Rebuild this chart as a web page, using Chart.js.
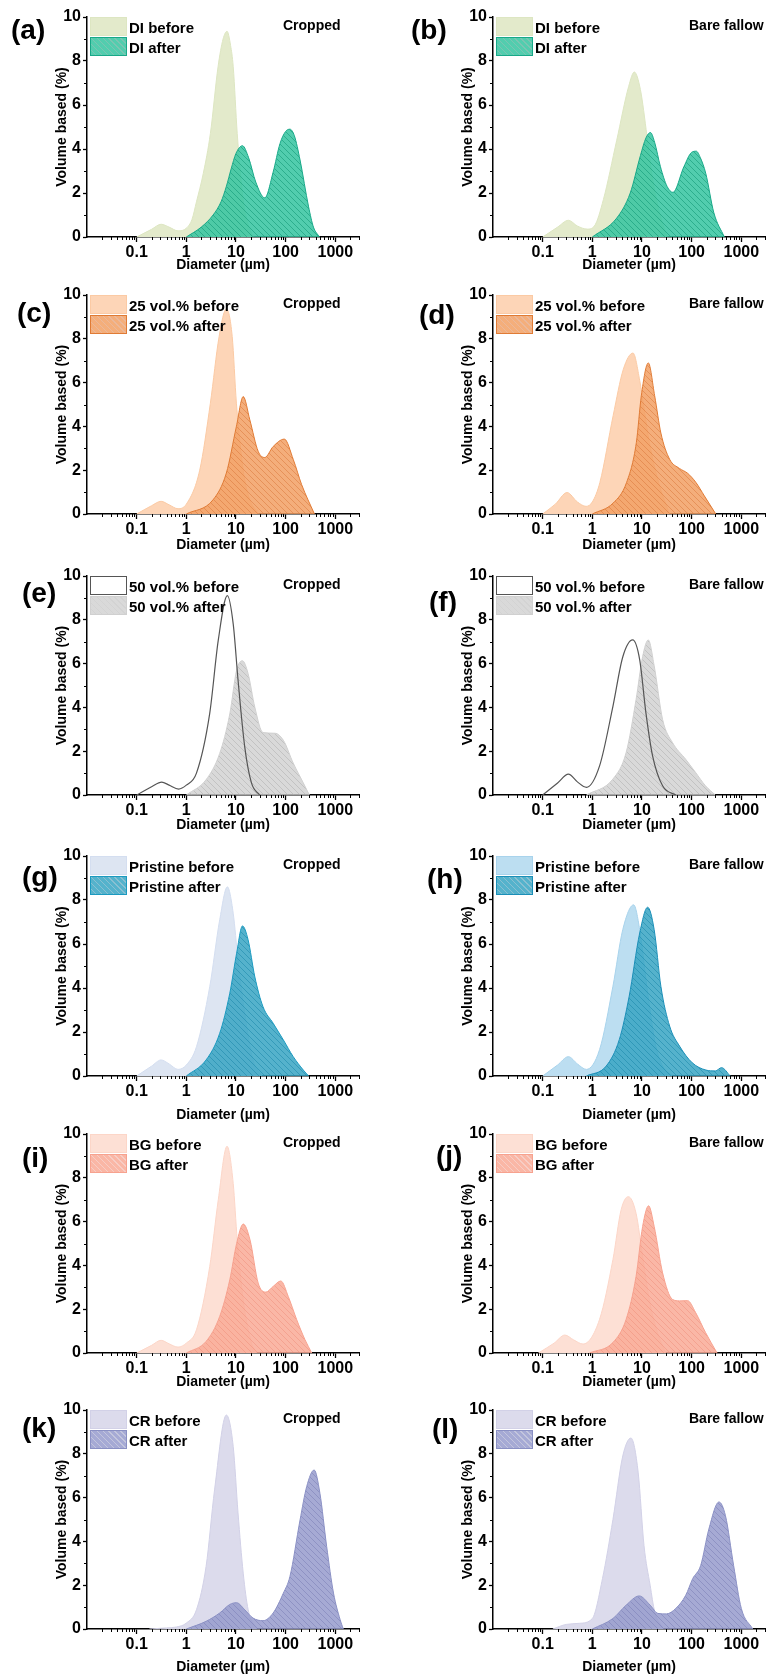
<!DOCTYPE html>
<html>
<head>
<meta charset="utf-8">
<script src="https://cdn.jsdelivr.net/npm/chart.js@4.4.0/dist/chart.umd.min.js"></script>
<style>
html, body { margin: 0; padding: 0; background: #fff; }
#page { position: relative; width: 769px; height: 1677px; overflow: hidden; font-family: "Liberation Sans", Arial, sans-serif; font-weight: bold; color: #000; }
#page canvas { position: absolute; }
.lbl { position: absolute; white-space: nowrap; line-height: 1; }
.sw { position: absolute; box-sizing: border-box; }
</style>
</head>
<body>
<div id="page"></div>
<script>
// --- axis ticks / text ---
const xTicks = [0.1, 1, 10, 100, 1000];
const groups = ["DI", "25 vol.%", "50 vol.%", "Pristine", "BG", "CR"];
const sites = ["Cropped", "Bare fallow"];
const letters = ["a", "b", "c", "d", "e", "f", "g", "h", "i", "j", "k", "l"];

// --- [diameter (µm), volume (%)] ---
const diCropBefore = [[0.1,0],[0.2,0.35],[0.31,0.58],[0.45,0.45],[0.68,0.28],[1,0.4],[1.3,0.8],[1.6,1.6],[2.2,2.9],[3.05,4.7],[4.36,7.75],[5.5,9.0],[6.6,9.35],[7.8,8.7],[8.8,7.75],[10.6,4.7],[14,1.67],[17,0.7],[22,0]];
const diCropAfter = [[1,0],[2,0.45],[3.46,1.0],[5,1.6],[6.4,2.3],[8,3.1],[10,3.8],[13.5,4.15],[18,3.6],[25,2.5],[38,1.78],[56,2.95],[77,4.25],[100,4.8],[122,4.9],[150,4.6],[195,3.5],[290,1.37],[363,0.45],[480,0]];
const diBareBefore = [[0.1,0],[0.2,0.45],[0.33,0.76],[0.5,0.5],[0.79,0.36],[1.1,0.5],[1.67,1.7],[3.1,4.4],[5.4,6.85],[7,7.5],[9.3,6.7],[12.6,4.6],[16,2.8],[22,1.2],[32,0]];
const diBareAfter = [[1,0],[3.1,0.86],[5.8,2.0],[9.3,3.7],[12,4.5],[14.8,4.75],[18,4.3],[23.5,3.2],[32,2.3],[42,2.03],[70,3.2],[100,3.85],[124,3.9],[150,3.6],[192,2.9],[280,1.1],[455,0]];

const v25CropBefore = [[0.1,0],[0.2,0.38],[0.31,0.58],[0.45,0.42],[0.68,0.24],[1,0.45],[1.86,2.0],[3.05,5.06],[4.57,8.1],[6.4,9.36],[8.4,8.1],[10.2,5.06],[14,2.0],[18,0.8],[28,0]];
const v25CropAfter = [[1,0],[3.46,0.65],[6.4,1.87],[10.2,4.0],[14,5.36],[19,4.3],[28,2.86],[38,2.58],[56,3.08],[94,3.42],[143,2.48],[210,1.34],[380,0]];
const v25BareBefore = [[0.1,0],[0.18,0.45],[0.31,0.98],[0.5,0.55],[0.75,0.35],[1.0,0.55],[1.42,1.44],[2.63,4.5],[4.2,6.6],[6.6,7.35],[9,6.1],[14,3.3],[22.5,1.3],[36,0]];
const v25BareAfter = [[1,0],[2.63,0.5],[4.9,1.44],[7.7,3.26],[9.7,5.4],[13.4,6.9],[18,5.4],[24,3.7],[36,2.5],[57,2.08],[83,1.86],[122,1.44],[180,0.83],[306,0]];

const v50CropBefore = [[0.1,0],[0.2,0.38],[0.32,0.59],[0.45,0.45],[0.7,0.27],[1,0.45],[1.6,1.0],[2.96,3.73],[4.4,7.07],[6.7,9.1],[8.8,7.8],[11,5.25],[15,2.2],[20.5,0.55],[30,0]];
const v50CropAfter = [[1,0],[2.5,0.7],[4.7,1.9],[7.5,3.7],[10.3,5.7],[13.5,6.13],[17.5,5.55],[24,4.0],[35,2.85],[61,2.82],[90,2.5],[142,1.46],[227,0.55],[300,0]];
const v50BareBefore = [[0.1,0],[0.2,0.55],[0.33,0.95],[0.5,0.6],[0.76,0.35],[1.4,1.33],[2.6,4.05],[4.1,6.3],[6.5,7.08],[9,6.17],[12,3.75],[16.3,1.8],[26,0.42],[48,0]];
const v50BareAfter = [[0.76,0],[2.6,0.73],[4.8,1.94],[7.6,4.36],[10.3,6.32],[13.4,7.08],[17.6,5.9],[26,3.45],[41,2.4],[76,1.63],[120,1.03],[190,0.42],[300,0]];

const priCropBefore = [[0.1,0],[0.2,0.45],[0.31,0.73],[0.45,0.55],[0.68,0.3],[1,0.5],[1.6,1.33],[2.96,4.06],[4.7,7.1],[6.7,8.6],[8.8,7.4],[11,5.27],[15,2.85],[22,0.73],[33,0]];
const priCropAfter = [[1,0],[2.5,0.73],[4.7,1.94],[7.5,3.76],[10.3,5.58],[13.5,6.82],[17.5,6.2],[24,4.5],[35,3.15],[56,2.4],[90,1.64],[142,0.88],[227,0.27],[290,0]];
const priBareBefore = [[0.1,0],[0.2,0.5],[0.33,0.88],[0.5,0.55],[0.76,0.3],[1.4,1.2],[2.6,4.08],[4.1,6.65],[6.8,7.78],[9,6.65],[13,3.78],[19,1.36],[26,0.45],[41,0]];
const priBareAfter = [[0.76,0],[1.9,0.45],[3.5,1.66],[5.5,3.6],[9,6.5],[13,7.67],[17.6,6.65],[24,4.08],[36,2.27],[57,1.36],[103,0.6],[194,0.27],[300,0.23],[400,0.38],[600,0]];

const bgCropBefore = [[0.1,0],[0.2,0.35],[0.31,0.58],[0.45,0.42],[0.68,0.27],[1,0.45],[1.6,1.06],[2.96,3.95],[4.4,7.0],[6.6,9.44],[8.8,7.74],[10.6,5.16],[14,2.43],[20.5,0.46],[26,0]];
const bgCropAfter = [[1,0],[2.5,0.53],[4.7,1.67],[7.5,3.34],[10.3,5.0],[14,5.89],[19.2,5.16],[28,3.19],[40,2.78],[56,3.04],[80,3.29],[113,2.58],[167,1.52],[245,0.61],[335,0]];
const bgBareBefore = [[0.082,0],[0.17,0.45],[0.28,0.82],[0.42,0.6],[0.65,0.41],[1.4,1.54],[2.6,4.27],[3.8,6.54],[5.3,7.14],[7.6,6.38],[10.3,4.42],[14,2.45],[20.5,0.94],[30,0]];
const bgBareAfter = [[0.88,0],[2.6,0.48],[4.8,1.54],[7.6,3.5],[10.3,5.78],[13.6,6.72],[17.6,5.78],[26,3.66],[41,2.45],[57,2.38],[83,2.39],[120,1.85],[190,0.94],[325,0]];

const crCropBefore = [[0.18,0],[0.4,0.05],[0.63,0.09],[1,0.27],[1.6,0.88],[2.5,2.86],[3.7,6.35],[6.4,9.77],[8.8,8.33],[11,5.3],[14,2.55],[17.6,0.88],[26,0]];
const crCropAfter = [[1,0],[2.5,0.35],[4.7,0.73],[7.5,1.12],[10.3,1.2],[15,0.88],[22,0.5],[35,0.38],[56,0.73],[90,1.64],[122,2.4],[195,4.98],[265,6.5],[375,7.26],[490,6.2],[670,3.77],[920,1.64],[1250,0.43],[1450,0]];
const crBareBefore = [[0.16,0],[0.3,0.21],[0.55,0.26],[1,0.48],[1.6,2.3],[2.6,5.0],[4.1,7.9],[6,8.72],[8.4,7.13],[11,3.8],[14.6,2.0],[18,0.8],[27,0]];
const crBareAfter = [[1,0],[2.6,0.48],[4.8,1.09],[8.8,1.51],[14.6,1.09],[21,0.71],[31,0.69],[48,0.94],[76,1.54],[105,2.3],[152,2.9],[222,4.56],[355,5.8],[480,5.17],[700,2.9],[1000,0.94],[1700,0]];

const beforeSets = [diCropBefore, diBareBefore, v25CropBefore, v25BareBefore, v50CropBefore, v50BareBefore,
  priCropBefore, priBareBefore, bgCropBefore, bgBareBefore, crCropBefore, crBareBefore];
const afterSets = [diCropAfter, diBareAfter, v25CropAfter, v25BareAfter, v50CropAfter, v50BareAfter,
  priCropAfter, priBareAfter, bgCropAfter, bgBareAfter, crCropAfter, crBareAfter];

// --- colours per panel: before fill/line, after base/hatch/line ---
const looks = [
  { bf: "#e3eacb", bl: "#dde6c2", ab: "rgba(52,196,160,0.85)", ah: "rgba(15,150,115,0.55)", al: "#18a888" },
  { bf: "#e3eacb", bl: "#dde6c2", ab: "rgba(52,196,160,0.85)", ah: "rgba(15,150,115,0.55)", al: "#18a888" },
  { bf: "#fdd5b7", bl: "#fbcaa4", ab: "rgba(242,160,100,0.85)", ah: "rgba(215,115,55,0.5)", al: "#e07b35" },
  { bf: "#fdd5b7", bl: "#fbcaa4", ab: "rgba(242,160,100,0.85)", ah: "rgba(215,115,55,0.5)", al: "#e07b35" },
  { bf: null, bl: "#555555", ab: "rgba(208,208,208,0.8)", ah: "rgba(175,175,175,0.55)", al: "#d0d0d0" },
  { bf: null, bl: "#555555", ab: "rgba(208,208,208,0.8)", ah: "rgba(175,175,175,0.55)", al: "#d0d0d0" },
  { bf: "#dde5f2", bl: "#d4def0", ab: "rgba(55,165,195,0.85)", ah: "rgba(20,130,165,0.5)", al: "#1b9ac0" },
  { bf: "#bcdef1", bl: "#a8d3ec", ab: "rgba(55,165,195,0.85)", ah: "rgba(20,130,165,0.5)", al: "#1b8fb8" },
  { bf: "#fde0d5", bl: "#fcd6c8", ab: "rgba(249,170,150,0.85)", ah: "rgba(235,130,110,0.4)", al: "#f7a28f" },
  { bf: "#fde0d5", bl: "#fcd6c8", ab: "rgba(249,170,150,0.85)", ah: "rgba(235,130,110,0.4)", al: "#f7a28f" },
  { bf: "#dcdbec", bl: "#d2d1e7", ab: "rgba(150,155,205,0.85)", ah: "rgba(105,110,170,0.4)", al: "#8a90c4" },
  { bf: "#dcdbec", bl: "#d2d1e7", ab: "rgba(150,155,205,0.85)", ah: "rgba(105,110,170,0.4)", al: "#8a90c4" }
];

// --- layout (pixels) ---
const rowTop = [17, 295, 576, 856, 1134, 1410];
const rowBottom = [237, 514, 795, 1076, 1353, 1629];
const colLeft = [87, 493];
const plotW = 272;
const titleGap = [28, 31, 30, 39, 29, 38];
const letterPos = [[11,30],[411,30],[17,313],[419,315],[22,593],[429,602],[22,877],[427,879],[22,1158],[436,1156],[22,1428],[432,1429]];
const siteX = [283, 689];

const FONT = "'Liberation Sans', Arial, sans-serif";
const page = document.getElementById("page");

function hatch(base, line){
  const c = document.createElement("canvas");
  c.width = c.height = 6;
  const g = c.getContext("2d");
  g.fillStyle = base; g.fillRect(0, 0, 6, 6);
  g.strokeStyle = line; g.lineWidth = 1;
  g.beginPath();
  for(let k = -1; k <= 1; k++){ g.moveTo(k*6, 0); g.lineTo(k*6 + 6, 6); }
  g.stroke();
  return g.createPattern(c, "repeat");
}

const minorTicks = {
  id: "minorTicks",
  afterDraw(chart){
    const { ctx, scales: { x, y } } = chart;
    ctx.save();
    ctx.strokeStyle = "#000"; ctx.lineWidth = 1;
    ctx.beginPath();
    for(let e = -2; e <= 3; e++){
      for(let m = 2; m <= 9; m++){
        const v = m * Math.pow(10, e);
        if(v > x.max) break;
        const px = Math.round(x.getPixelForValue(v)) + 0.5;
        ctx.moveTo(px, y.bottom); ctx.lineTo(px, y.bottom + 3);
      }
    }
    for(let v = 1; v < 10; v += 2){
      const py = Math.round(y.getPixelForValue(v)) + 0.5;
      ctx.moveTo(x.left, py); ctx.lineTo(x.left - 3, py);
    }
    ctx.stroke();
    ctx.restore();
  }
};

function addText(txt, x, y, size){
  const d = document.createElement("div");
  d.className = "lbl";
  d.textContent = txt;
  d.style.left = x + "px";
  d.style.top = (y - size/2) + "px";
  d.style.fontSize = size + "px";
  page.appendChild(d);
}

function addSwatch(x, y, w, h, bg, border){
  const s = document.createElement("div");
  s.className = "sw";
  s.style.left = x + "px"; s.style.top = y + "px";
  s.style.width = w + "px"; s.style.height = h + "px";
  s.style.background = bg;
  if(border) s.style.border = border;
  page.appendChild(s);
}

const toPts = arr => arr.map(([d, v]) => ({ x: d, y: v }));

letters.forEach((letter, i) => {
  const col = i % 2, row = Math.floor(i / 2);
  const left = colLeft[col], top = rowTop[row], bottom = rowBottom[row];
  const h = bottom - top;
  const look = looks[i];
  const lineOnly = !look.bf;

  const cv = document.createElement("canvas");
  cv.width = 80 + plotW + 4;
  cv.height = 20 + h + 50;
  cv.style.left = (left - 80) + "px";
  cv.style.top = (top - 20) + "px";
  page.appendChild(cv);

  const tickFont = { family: FONT, size: 16, weight: "bold" };
  const titleFont = { family: FONT, size: 14, weight: "bold" };

  new Chart(cv.getContext("2d"), {
    type: "line",
    data: {
      datasets: [
        {
          label: groups[row] + " before",
          data: toPts(beforeSets[i]),
          fill: lineOnly ? false : "origin",
          backgroundColor: look.bf || "rgba(0,0,0,0)",
          borderColor: look.bl,
          borderWidth: lineOnly ? 1.2 : 1,
          order: lineOnly ? 0 : 1
        },
        {
          label: groups[row] + " after",
          data: toPts(afterSets[i]),
          fill: "origin",
          backgroundColor: hatch(look.ab, look.ah),
          borderColor: look.al,
          borderWidth: 1,
          order: lineOnly ? 1 : 0
        }
      ]
    },
    options: {
      responsive: false,
      animation: false,
      events: [],
      elements: { point: { radius: 0 }, line: { cubicInterpolationMode: "monotone" } },
      layout: { padding: { top: 20, right: 4, bottom: 0, left: 0 } },
      plugins: { legend: { display: false }, tooltip: { enabled: false } },
      scales: {
        x: {
          type: "logarithmic",
          min: 0.01, max: 3000,
          afterBuildTicks: s => { s.ticks = xTicks.map(v => ({ value: v })); },
          afterFit: s => { s.height = 50; },
          ticks: { callback: v => String(v), font: tickFont, color: "#000", padding: 1, maxRotation: 0, autoSkip: false },
          grid: { drawOnChartArea: false, tickLength: 5, tickColor: "#000", tickWidth: 1.3 },
          border: { color: "#000", width: 1.5 },
          title: { display: true, text: "Diameter (µm)", font: titleFont, color: "#000", padding: { top: 0, bottom: 50 - titleGap[row] - 8.4 } }
        },
        y: {
          min: 0, max: 10,
          afterFit: s => { s.width = 80; },
          ticks: { stepSize: 2, font: tickFont, color: "#000", padding: 2 },
          grid: { drawOnChartArea: false, tickLength: 4, tickColor: "#000", tickWidth: 1.3 },
          border: { color: "#000", width: 1.5 },
          title: { display: true, text: "Volume based (%)", font: titleFont, color: "#000", padding: { top: 80 - 25 - 8.4, bottom: 0 } }
        }
      }
    },
    plugins: [minorTicks]
  });

  // panel letter and site
  addText("(" + letter + ")", letterPos[i][0], letterPos[i][1], 28);
  addText(sites[col], siteX[col], top + 8, 14);

  // legend
  const bx = left + 3, bw = 37, bh = 19;
  if(lineOnly) addSwatch(bx, top, bw, bh, "#fff", "1.5px solid " + look.bl);
  else addSwatch(bx, top, bw, bh, look.bf, "1px solid " + look.bl);
  addSwatch(bx, top + 20, bw, bh,
    "repeating-linear-gradient(45deg, " + look.ab + " 0px, " + look.ab + " 3px, " + look.ah + " 3px, " + look.ah + " 4.2px), #fff",
    "1px solid " + look.al);
  addText(groups[row] + " before", bx + bw + 2, top + 10, 15);
  addText(groups[row] + " after", bx + bw + 2, top + 30, 15);
});
</script>
</body>
</html>
